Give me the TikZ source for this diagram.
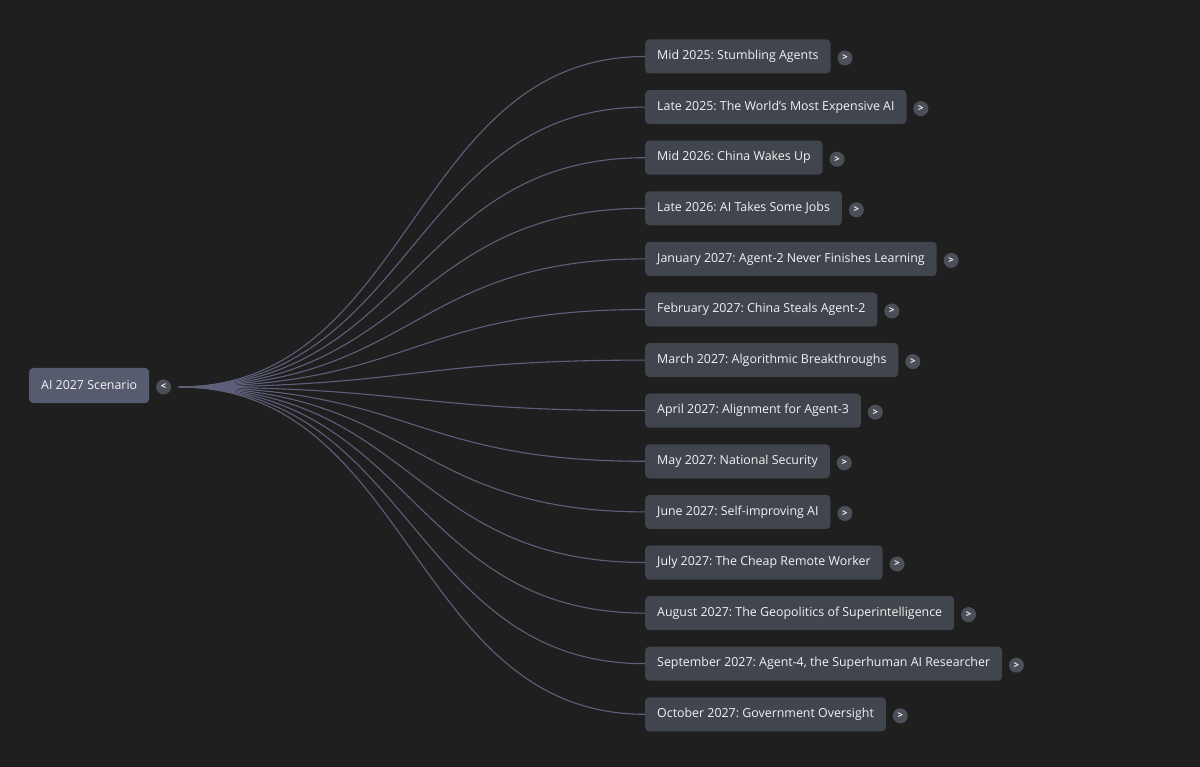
\documentclass[tikz,border=0pt]{standalone}
\usepackage{fontspec}
\setmainfont{Open Sans}
\usepackage{xcolor}
\usetikzlibrary{positioning}
\frenchspacing

\definecolor{bgdark}{HTML}{1F1F1F}
\definecolor{rootfill}{HTML}{575B6F}
\definecolor{topicfill}{HTML}{41454D}
\definecolor{togglefill}{HTML}{4B4F58}
\definecolor{linkcol}{HTML}{5E607A}
\definecolor{textwhite}{HTML}{F2F2F2}

\begin{document}
\begin{tikzpicture}[x=1pt, y=-1pt, node distance=50.6pt,
    topic/.style={rectangle, rounded corners=4pt, fill=topicfill, text=textwhite, minimum height=34pt, inner xsep=12pt, font=\fontsize{12.4}{15}\selectfont, anchor=west},
    root/.style={topic, fill=rootfill, minimum height=35pt},
    toggle/.style={circle, fill=togglefill, text=textwhite, minimum size=15pt, inner sep=0pt, yshift=-1.5pt, font=\fontsize{9.5}{9.5}\selectfont\bfseries},
    link/.style={draw=linkcol, line width=1.1pt}]

    % background and page size
    \fill[bgdark] (0,0) rectangle (1200,767);

    \node[root] (root) at (29,385.5) {AI 2027 Scenario};
    \node[toggle, right=6.5pt of root] (rootbtn) {<};
    \coordinate[right=7.5pt of rootbtn] (hub);

    \node[topic] (t1) at (645,56.5) {Mid 2025: Stumbling Agents};
    \node[topic, below=of t1.west, anchor=west] (t2) {Late 2025: The World’s Most Expensive AI};
    \node[topic, below=of t2.west, anchor=west] (t3) {Mid 2026: China Wakes Up};
    \node[topic, below=of t3.west, anchor=west] (t4) {Late 2026: AI Takes Some Jobs};
    \node[topic, below=of t4.west, anchor=west] (t5) {January 2027: Agent-2 Never Finishes Learning};
    \node[topic, below=of t5.west, anchor=west] (t6) {February 2027: China Steals Agent-2};
    \node[topic, below=of t6.west, anchor=west] (t7) {March 2027: Algorithmic Breakthroughs};
    \node[topic, below=of t7.west, anchor=west] (t8) {April 2027: Alignment for Agent-3};
    \node[topic, below=of t8.west, anchor=west] (t9) {May 2027: National Security};
    \node[topic, below=of t9.west, anchor=west] (t10) {June 2027: Self-improving AI};
    \node[topic, below=of t10.west, anchor=west] (t11) {July 2027: The Cheap Remote Worker};
    \node[topic, below=of t11.west, anchor=west] (t12) {August 2027: The Geopolitics of Superintelligence};
    \node[topic, below=of t12.west, anchor=west] (t13) {September 2027: Agent-4, the Superhuman AI Researcher};
    \node[topic, below=of t13.west, anchor=west] (t14) {October 2027: Government Oversight};

    \node[toggle, right=6.5pt of t1] (b1) {>};
    \node[toggle, right=6.5pt of t2] (b2) {>};
    \node[toggle, right=6.5pt of t3] (b3) {>};
    \node[toggle, right=6.5pt of t4] (b4) {>};
    \node[toggle, right=6.5pt of t5] (b5) {>};
    \node[toggle, right=6.5pt of t6] (b6) {>};
    \node[toggle, right=6.5pt of t7] (b7) {>};
    \node[toggle, right=6.5pt of t8] (b8) {>};
    \node[toggle, right=6.5pt of t9] (b9) {>};
    \node[toggle, right=6.5pt of t10] (b10) {>};
    \node[toggle, right=6.5pt of t11] (b11) {>};
    \node[toggle, right=6.5pt of t12] (b12) {>};
    \node[toggle, right=6.5pt of t13] (b13) {>};
    \node[toggle, right=6.5pt of t14] (b14) {>};

    \draw[link] (hub) .. controls +(234pt,0pt) and +(-234pt,0pt) .. (t1.west);
    \draw[link] (hub) .. controls +(234pt,0pt) and +(-234pt,0pt) .. (t2.west);
    \draw[link] (hub) .. controls +(234pt,0pt) and +(-234pt,0pt) .. (t3.west);
    \draw[link] (hub) .. controls +(234pt,0pt) and +(-234pt,0pt) .. (t4.west);
    \draw[link] (hub) .. controls +(234pt,0pt) and +(-234pt,0pt) .. (t5.west);
    \draw[link] (hub) .. controls +(234pt,0pt) and +(-234pt,0pt) .. (t6.west);
    \draw[link] (hub) .. controls +(234pt,0pt) and +(-234pt,0pt) .. (t7.west);
    \draw[link] (hub) .. controls +(234pt,0pt) and +(-234pt,0pt) .. (t8.west);
    \draw[link] (hub) .. controls +(234pt,0pt) and +(-234pt,0pt) .. (t9.west);
    \draw[link] (hub) .. controls +(234pt,0pt) and +(-234pt,0pt) .. (t10.west);
    \draw[link] (hub) .. controls +(234pt,0pt) and +(-234pt,0pt) .. (t11.west);
    \draw[link] (hub) .. controls +(234pt,0pt) and +(-234pt,0pt) .. (t12.west);
    \draw[link] (hub) .. controls +(234pt,0pt) and +(-234pt,0pt) .. (t13.west);
    \draw[link] (hub) .. controls +(234pt,0pt) and +(-234pt,0pt) .. (t14.west);
\end{tikzpicture}
\end{document}
